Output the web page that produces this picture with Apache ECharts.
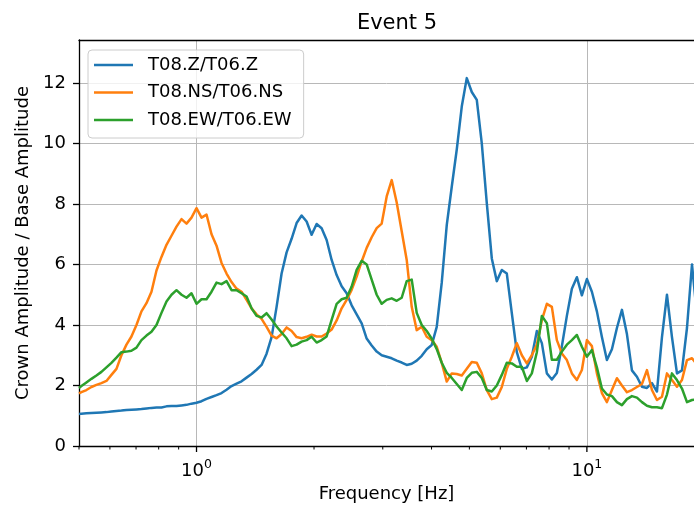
<!DOCTYPE html>
<html><head><meta charset="utf-8">
<script src="https://cdn.jsdelivr.net/npm/echarts@6/dist/echarts.min.js"></script>
<style>html,body{margin:0;padding:0;background:#fff}#c{width:694px;height:508px}</style>
</head><body><div id="c"></div>
<script>
const freq = [0.5,
0.5072,0.5223,0.5380,0.5541,0.5707,0.5878,0.6054,0.6236,0.6422,0.6615,
0.6813,0.7017,0.7227,0.7444,0.7667,0.7897,0.8133,0.8377,0.8628,0.8886,
0.9153,0.9427,0.9709,1.0,
1.0300,1.0608,1.0926,1.1253,1.1591,1.1938,1.2296,1.2664,1.3043,1.3434,
1.3837,1.4251,1.4678,1.5118,1.5571,1.6037,1.6518,1.7013,1.7522,1.8047,
1.8588,1.9145,1.9718,2.0309,2.0918,2.1544,2.2190,2.2855,2.3539,2.4245,
2.4971,2.5719,2.6490,2.7283,2.8101,2.8943,2.9810,3.0703,3.1623,3.2570,
3.3546,3.4551,3.5586,3.6652,3.7751,3.8882,4.0047,4.1246,4.2482,4.3755,
4.5066,4.6416,4.7807,4.9239,5.0714,5.2234,5.3798,5.5410,5.7070,5.8780,
6.0541,6.2355,6.4223,6.6147,6.8129,7.0170,7.2273,7.4438,7.6668,7.8965,
8.1331,8.3768,8.6278,8.8863,9.1525,9.4267,9.7091,10.0,
10.300,10.608,10.926,11.253,11.591,11.938,12.296,12.664,13.043,13.434,
13.837,14.251,14.678,15.118,15.571,16.037,16.518,17.013,17.522,18.047,
18.588,19.145];

const zRatio = [1.06,
1.07,1.08,1.09,1.10,1.11,1.12,1.14,1.16,1.17,1.19,
1.20,1.21,1.22,1.24,1.26,1.27,1.27,1.31,1.32,1.32,
1.34,1.36,1.40,1.43,
1.48,1.56,1.62,1.68,1.75,1.86,1.98,2.06,2.14,2.26,
2.38,2.52,2.68,3.05,3.60,4.60,5.70,6.40,6.85,7.37,
7.62,7.42,6.98,7.34,7.20,6.81,6.15,5.65,5.28,5.05,
4.65,4.35,4.05,3.55,3.32,3.12,3.00,2.95,2.90,2.82,
2.76,2.68,2.72,2.82,2.98,3.20,3.34,3.94,5.40,7.30,
8.57,9.80,11.22,12.16,11.70,11.44,10.00,8.03,6.20,5.45,
5.82,5.70,4.39,3.10,2.55,2.60,2.95,3.80,3.40,2.40,
2.20,2.41,3.30,4.30,5.20,5.58,4.98,5.52,
5.10,4.45,3.60,2.84,3.20,3.90,4.50,3.70,2.50,2.29,
1.96,1.92,2.08,1.80,3.60,5.00,3.60,2.40,2.50,3.90,
6.00,4.30];

const nsRatio = [1.74,
1.78,1.85,1.95,2.02,2.08,2.15,2.35,2.55,3.00,3.35,
3.62,4.00,4.45,4.72,5.10,5.80,6.25,6.65,6.95,7.25,
7.50,7.35,7.55,7.86,
7.55,7.65,7.00,6.62,6.05,5.70,5.42,5.20,5.10,4.83,
4.55,4.35,4.20,3.94,3.65,3.56,3.70,3.92,3.80,3.60,
3.56,3.61,3.68,3.62,3.62,3.72,3.85,4.15,4.55,4.83,
5.16,5.60,6.10,6.55,6.90,7.20,7.35,8.25,8.79,8.05,
7.10,6.15,4.60,3.83,3.94,3.61,3.50,3.28,2.75,2.13,
2.40,2.38,2.33,2.55,2.78,2.75,2.40,1.85,1.55,1.60,
1.95,2.55,2.95,3.40,3.00,2.73,3.00,3.35,4.16,4.70,
4.60,3.50,3.06,2.84,2.40,2.18,2.51,3.50,
3.30,2.40,1.75,1.45,1.85,2.24,2.00,1.78,1.85,1.95,
2.05,2.51,1.85,1.52,1.63,2.40,2.18,1.96,2.18,2.84,
2.90,2.70];

const ewRatio = [1.92,
1.98,2.10,2.22,2.33,2.45,2.60,2.75,2.92,3.10,3.12,
3.15,3.25,3.50,3.65,3.78,4.00,4.40,4.78,5.00,5.15,
5.00,4.90,5.05,4.70,
4.85,4.85,5.10,5.40,5.35,5.45,5.15,5.15,5.05,4.94,
4.55,4.30,4.25,4.39,4.18,3.95,3.75,3.56,3.30,3.35,
3.45,3.50,3.61,3.42,3.50,3.62,4.17,4.70,4.85,4.90,
5.27,5.82,6.12,6.00,5.50,5.00,4.70,4.83,4.88,4.80,
4.90,5.45,5.50,4.40,4.00,3.80,3.55,3.20,2.75,2.42,
2.25,2.05,1.85,2.25,2.42,2.45,2.25,1.85,1.80,2.00,
2.35,2.75,2.73,2.62,2.62,2.15,2.40,3.10,4.30,4.06,
2.85,2.85,3.12,3.35,3.50,3.67,3.28,2.95,
3.17,2.60,1.90,1.70,1.65,1.45,1.35,1.55,1.65,1.60,
1.45,1.33,1.28,1.28,1.25,1.70,2.40,2.18,1.90,1.45,
1.52,1.55];

const seriesNames = ['T08.Z/T06.Z', 'T08.NS/T06.NS', 'T08.EW/T06.EW'];
const xMajorTicks = [1, 10];
const xMinorTicks = [0.5, 0.6, 0.7, 0.8, 0.9, 2, 3, 4, 5, 6, 7, 8, 9];
const yTicks = [0, 2, 4, 6, 8, 10, 12];
const xMin = 0.5, xMax = 18.81, yMax = 13.42;

const FONT = 'DejaVu Sans';
const colors = ['#1f77b4', '#ff7f0e', '#2ca02c'];
const pairs = vals => freq.map((f, i) => [f, vals[i]]);

function tickSeries(vals, len, width) {
  return {
    type: 'custom', silent: true, clip: false, z: 5,
    data: vals.map(v => [v, 0]),
    renderItem: (params, api) => {
      const p = api.coord([api.value(0), 0]);
      return { type: 'line', shape: { x1: p[0], y1: p[1], x2: p[0], y2: p[1] + len },
               style: { stroke: '#000', lineWidth: width } };
    }
  };
}

const axisLineStyle = { show: true, lineStyle: { color: '#000', width: 1.3 } };

const chart = echarts.init(document.getElementById('c'), null, { renderer: 'canvas' });
chart.setOption({
  animation: false,
  backgroundColor: '#fff',
  textStyle: { fontFamily: FONT },
  title: {
    text: 'Event 5', left: 392, top: 8, textAlign: 'center',
    textStyle: { fontFamily: FONT, fontSize: 21, fontWeight: 'normal', color: '#000' }
  },
  grid: { left: 79, top: 40, right: 0, bottom: 62 },
  legend: {
    data: seriesNames, orient: 'vertical', left: 88, top: 50,
    icon: 'rect', itemWidth: 39, itemHeight: 2.6, itemGap: 7.5,
    padding: [5, 12, 8, 6],
    backgroundColor: 'rgba(255,255,255,0.8)', borderColor: '#cccccc', borderWidth: 1, borderRadius: 4,
    textStyle: { fontFamily: FONT, fontSize: 18, color: '#000', lineHeight: 20, padding: [0, 0, 0, 10] }
  },
  xAxis: [{
    type: 'log', logBase: 10, min: xMin, max: xMax, splitNumber: 2,
    name: 'Frequency [Hz]', nameLocation: 'middle', nameGap: 38,
    nameTextStyle: { fontFamily: FONT, fontSize: 18, color: '#000' },
    axisLine: axisLineStyle,
    axisTick: { show: false },
    axisLabel: {
      customValues: xMajorTicks,
      margin: 12, color: '#000',
      formatter: v => {
        const e = Math.log10(v);
        if (Math.abs(e - Math.round(e)) > 1e-6) return '';
        return '{b|10}{s|' + Math.round(e) + '}';
      },
      rich: {
        b: { fontFamily: FONT, fontSize: 18, color: '#000', lineHeight: 22, verticalAlign: 'bottom' },
        s: { fontFamily: FONT, fontSize: 12.5, color: '#000', lineHeight: 14, verticalAlign: 'top' }
      }
    },
    splitLine: { show: true, lineStyle: { color: '#b8b8b8', width: 1 } }
  }, {
    type: 'log', logBase: 10, min: xMin, max: xMax, position: 'top',
    axisLine: axisLineStyle, axisTick: { show: false }, axisLabel: { show: false }, splitLine: { show: false }
  }],
  yAxis: {
    type: 'value', min: 0, max: yMax, interval: 2,
    name: 'Crown Amplitude / Base Amplitude', nameLocation: 'middle', nameGap: 42,
    nameTextStyle: { fontFamily: FONT, fontSize: 18, color: '#000' },
    axisLine: axisLineStyle,
    axisTick: { show: true, length: 6, customValues: yTicks, lineStyle: { color: '#000', width: 1.3 } },
    axisLabel: {
      customValues: yTicks, margin: 13, fontFamily: FONT, fontSize: 18, color: '#000',
      formatter: v => (Math.abs(v % 2) < 1e-9 && v <= 12 ? String(v) : '')
    },
    splitLine: { show: true, lineStyle: { color: '#b8b8b8', width: 1 } }
  },
  series: [
    { name: seriesNames[0], type: 'line', data: pairs(zRatio), showSymbol: false, symbol: 'none', color: colors[0],
      lineStyle: { color: colors[0], width: 2.5, join: 'round' }, z: 2 },
    { name: seriesNames[1], type: 'line', data: pairs(nsRatio), showSymbol: false, symbol: 'none', color: colors[1],
      lineStyle: { color: colors[1], width: 2.5, join: 'round' }, z: 2 },
    { name: seriesNames[2], type: 'line', data: pairs(ewRatio), showSymbol: false, symbol: 'none', color: colors[2],
      lineStyle: { color: colors[2], width: 2.5, join: 'round' }, z: 2 },
    tickSeries(xMajorTicks, 6, 1.3),
    tickSeries(xMinorTicks, 3.5, 1)
  ]
});
</script></body></html>
